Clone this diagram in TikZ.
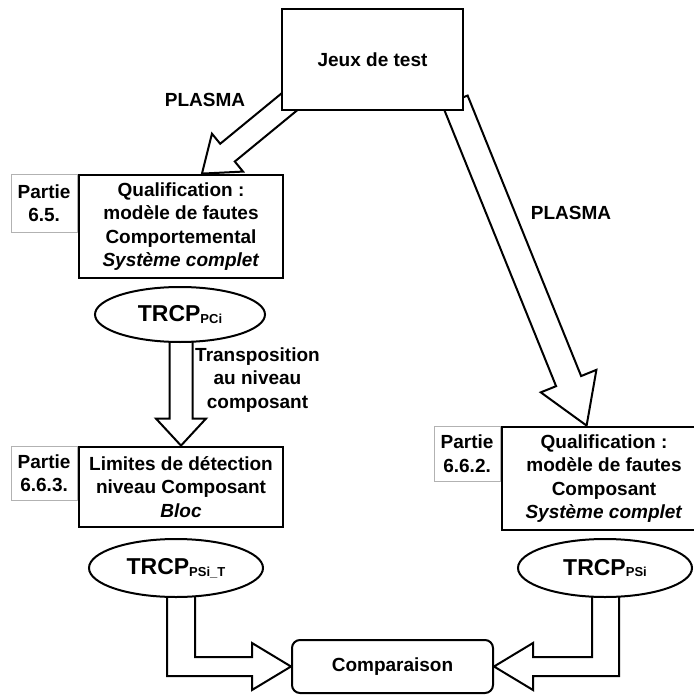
\documentclass[tikz,border=0pt]{standalone}
\usepackage{fontspec}
\setmainfont{Liberation Sans}
\usepackage{tikz}
\usetikzlibrary{positioning,calc,shapes.geometric,backgrounds}

\newcommand{\trcp}[1]{{\fontsize{11.5}{12}\selectfont TRCP}\raisebox{-0.8pt}{\fontsize{6.5}{7}\selectfont #1}}
\newcommand{\blkarrow}[5]{%
  \coordinate (hb) at ($(#2)!#5!(#1)$);
  \draw[blk] ($(#1)!#3!90:(#2)$) -- ($(hb)!#3!90:(#2)$) -- ($(hb)!#4!90:(#2)$) -- (#2)
    -- ($(hb)!#4!-90:(#2)$) -- ($(hb)!#3!-90:(#2)$) -- ($(#1)!#3!-90:(#2)$) -- cycle;}

\begin{document}
\begin{tikzpicture}[
  x=0.5pt, y=-0.5pt,
  txt/.style={font=\fontsize{9.5}{11.65}\selectfont\bfseries, align=center},
  box/.style={txt, draw, fill=white, inner sep=0pt},
  qual/.style={box, line width=1.4pt, minimum width=102pt, minimum height=51.5pt},
  partie/.style={box, draw=gray!60, line width=0.5pt, minimum width=33pt, minimum height=28pt, anchor=north east},
  trcpnode/.style={ellipse, draw, fill=white, line width=1pt, minimum width=87pt, minimum height=29pt, inner sep=0pt, font=\bfseries},
  blk/.style={draw, fill=white, line width=1pt, line join=miter}
]
\useasboundingbox (0,0) rectangle (694,695);
\clip (0,0) rectangle (694,695);

\node[box, line width=0.6pt, minimum width=90.5pt, minimum height=50.5pt] (jeux) at (372.5,59.5) {Jeux de test};
\node[txt] (plasmaL) at (205,100) {PLASMA};
\node[txt] (plasmaR) at (571,213) {PLASMA};

\node[qual] (qualA) at (181,226.5) {Qualification :\\ modèle de fautes\\ Comportemental\\ \textit{Système complet}};
\node[partie, minimum height=29pt] (partA) at (qualA.north west) {Partie\\ 6.5.};
\node[trcpnode, minimum width=85pt, minimum height=27.5pt] (trcpA) at (180,314.5) {\trcp{PCi}};
\node[txt] (transp) at (257.5,380) {Transposition\\ au niveau\\ composant};

\node[qual, minimum height=40pt] (limites) at (181,487) {Limites de détection\\ niveau Composant\\ \textit{Bloc}};
\node[partie, minimum height=27pt] (partB) at (limites.north west) {Partie\\ 6.6.3.};
\node[trcpnode] (trcpT) at (176,568) {\trcp{PSi\_T}};

\node[qual] (qualB) at (604,478.5) {Qualification :\\ modèle de fautes\\ Composant\\ \textit{Système complet}};
\node[partie, minimum height=27.5pt] (partC) at (qualB.north west) {Partie\\ 6.6.2.};
\node[trcpnode] (trcpP) at (605,568) {\trcp{PSi}};

\node[box, line width=1pt, rounded corners=4pt, minimum width=100.5pt, minimum height=26.5pt] (comp) at (392.5,666.5) {Comparaison};

\coordinate (srcL) at ($(jeux.south west)+(18,-17)$);
\coordinate (tipL) at ($(qualA.north)+(21,0)$);
\coordinate (srcR) at ($(jeux.south east)+(-8.5,-10)$);
\coordinate (tipR) at ($(qualB.north west)+(86,0)$);
\coordinate (srcT) at (trcpA.center -| limites.north);

\begin{scope}[on background layer]
\blkarrow{srcL}{tipL}{5.75pt}{12.25pt}{16.5pt}
\blkarrow{srcR}{tipR}{6.75pt}{15pt}{24pt}
\blkarrow{srcT}{limites.north}{5.75pt}{12.5pt}{13.5pt}
\draw[blk] ($(trcpT.center)+(-9,0)$) |- ($(comp.west)+(-39,9.5)$) -- ++(0,14) -- (comp.west)
  -- ++(-39,-23.5) -- ++(0,14) -| ($(trcpT.center)+(19,0)$) -- cycle;
\draw[blk] ($(trcpP.center)+(14,0)$) |- ($(comp.east)+(39,9.5)$) -- ++(0,14) -- (comp.east)
  -- ++(39,-23.5) -- ++(0,14) -| ($(trcpP.center)+(-13,0)$) -- cycle;
\end{scope}
\end{tikzpicture}
\end{document}
